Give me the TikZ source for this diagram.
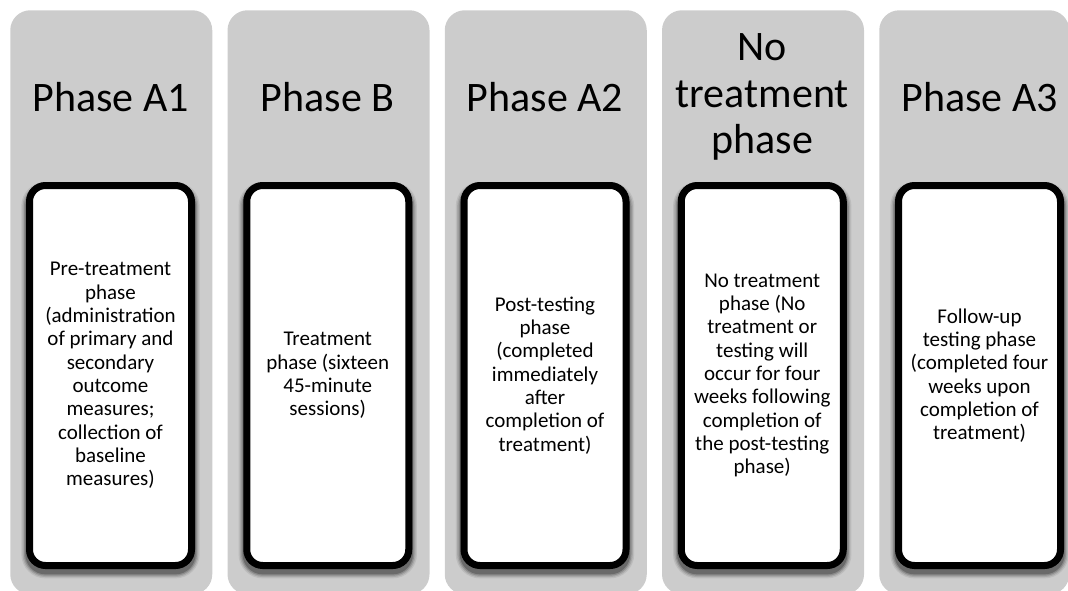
\documentclass[tikz,border=0pt]{standalone}
\usepackage{fontspec}
\setmainfont{Carlito}
\definecolor{colgrey}{RGB}{204,204,204}
\tikzset{
  colbox/.style={fill=colgrey, draw=none, rounded corners=15pt, minimum width=151.5pt, minimum height=438pt, anchor=north west, inner sep=0pt},
  phasetitle/.style={align=center, font=\fontsize{31.5}{35}\selectfont, inner sep=0pt},
  shadowlayer/.style 2 args={preaction={draw=colgrey!#1!black, line width=#2, transform canvas={yshift=-3.5pt}}},
  stepbox/.style={fill=white, draw=black, line width=5.25pt, rounded corners=12pt, minimum width=121.5pt, minimum height=285pt, inner sep=0pt, align=center, font=\fontsize{15.75}{17.5}\selectfont,
    shadowlayer={92}{12.25pt}, shadowlayer={82}{10.25pt}, shadowlayer={68}{8.25pt}, shadowlayer={52}{6.25pt}}
}
\begin{document}
\begin{tikzpicture}[x=0.75pt, y=-0.75pt]
\useasboundingbox (0,0) rectangle (1068,590);
% grey columns
\node[colbox] (c1) at (10,10) {};
\node[colbox] (c2) at (227.25,10) {};
\node[colbox] (c3) at (444.5,10) {};
\node[colbox] (c4) at (661.75,10) {};
\node[colbox, minimum width=142.5pt] (c5) at (879,10) {};
% titles
\node[phasetitle] (t1) at (110.5,97) {Phase A1};
\node[phasetitle] (t2) at (327.75,97) {Phase B};
\node[phasetitle] (t3) at (545,97) {Phase A2};
\node[phasetitle] (t4) at (762.25,97) {No\\treatment\\phase};
\node[phasetitle] (t5) at (979.5,97) {Phase A3};
% inner boxes
\node[stepbox] (b1) at (110.5,375.5) {Pre-treatment\\phase\\(administration\\of primary and\\secondary\\outcome\\measures;\\collection of\\baseline\\measures)};
\node[stepbox] (b2) at (327.75,375.5) {Treatment\\phase (sixteen\\45-minute\\sessions)};
\node[stepbox] (b3) at (545,375.5) {Post-testing\\phase\\(completed\\immediately\\after\\completion of\\treatment)};
\node[stepbox] (b4) at (762.25,375.5) {No treatment\\phase (No\\treatment or\\testing will\\occur for four\\weeks following\\completion of\\the post-testing\\phase)};
\node[stepbox] (b5) at (979.5,375.5) {Follow-up\\testing phase\\(completed four\\weeks upon\\completion of\\treatment)};
\end{tikzpicture}
\end{document}
